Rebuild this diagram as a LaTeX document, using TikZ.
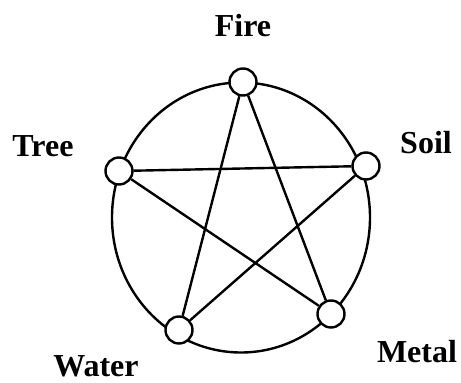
\documentclass[tikz,border=0pt]{standalone}
\usepackage{fontspec}
\setmainfont{Liberation Serif}
\begin{document}
\begin{tikzpicture}[x=1pt, y=1pt, line width=2.4pt,
    elem/.style={circle, draw, fill=white, line width=2.4pt, minimum size=27pt, inner sep=0pt},
    elemlabel/.style={font=\fontsize{32}{32}\selectfont\bfseries, inner sep=0pt, anchor=base}
  ]
  \useasboundingbox (0,0) rectangle (461,383);
  \draw (241,165.5) ellipse [x radius=129, y radius=135];
  \node[elem] (fire) at (243,301) {};
  \node[elem] (tree) at (119,212) {};
  \node[elem] (soil) at (366,217) {};
  \node[elem] (water) at (179,53) {};
  \node[elem] (metal) at (331,69) {};
  \foreach \a/\b in {fire/water, fire/metal, tree/soil, tree/metal, soil/water}
    \draw (\a) -- (\b);
  \node[elemlabel] (firelabel) at (243,346) {Fire};
  \node[elemlabel] (treelabel) at (43,226) {Tree};
  \node[elemlabel] (soillabel) at (426,229) {Soil};
  \node[elemlabel] (waterlabel) at (96,6) {Water};
  \node[elemlabel] (metallabel) at (417,20) {Metal};
\end{tikzpicture}
\end{document}
